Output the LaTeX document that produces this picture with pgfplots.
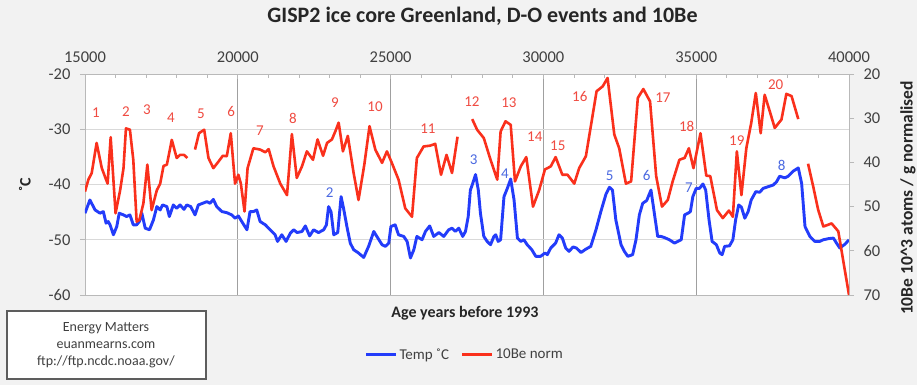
\documentclass[border=0pt]{standalone}
\usepackage{pgfplots}
\pgfplotsset{compat=1.18}
\usepackage{fontspec}
\setmainfont{Carlito}
\definecolor{bgc}{RGB}{242,242,242}
\definecolor{tblue}{RGB}{35,60,250}
\definecolor{bred}{RGB}{250,48,28}
\definecolor{lred}{RGB}{240,75,65}
\definecolor{lblue}{RGB}{75,105,225}
\definecolor{txt}{RGB}{64,64,64}
\definecolor{axc}{RGB}{185,185,185}
\definecolor{vgrid}{RGB}{160,160,160}
\definecolor{hgrid}{RGB}{217,217,217}
\begin{document}
\begin{tikzpicture}
\fill[bgc] (-85bp,-90bp) rectangle (832bp,295bp);
\begin{axis}[
 at={(0,0)}, anchor=south west,
 scale only axis, width=764bp, height=221bp,
 xmin=15000, xmax=40000, ymin=-60, ymax=-20,
 axis background/.style={fill=white},
 axis line style={axc, line width=0.8bp},
 xtick={15000,20000,...,40000},
 scaled x ticks=false,
 minor x tick num=4,
 xtick pos=right, xticklabel pos=right,
 xtick align=inside,
 ytick={-60,-50,...,-20},
 ytick pos=left, ytick align=outside,
 major tick length=5bp, minor tick length=4bp,
 tick style={axc, line width=0.8bp},
 xmajorgrids, ymajorgrids,
 x grid style={vgrid, line width=0.9bp},
 y grid style={hgrid, line width=0.9bp},
 /pgf/number format/assume math mode=true,
 /pgf/number format/1000 sep={},
 tick label style={font=\fontsize{16.5bp}{18bp}\selectfont, text=txt},
 xticklabel style={yshift=7.5bp},
 yticklabel style={xshift=-6bp},
 legend style={at={(0.497,-0.27)}, anchor=center, draw=none, fill=none,
   font=\fontsize{15bp}{17bp}\selectfont, text=txt,
   /tikz/every even column/.append style={column sep=10bp}},
 legend columns=2,
 legend image code/.code={\draw[#1] (0bp,0bp) -- (30bp,0bp);},
]
\addplot[tblue, line width=2.9bp, line join=round] coordinates {
(15000,-45.2) (15160,-42.8) (15330,-44.6) (15490,-45.2) (15600,-44.9) (15690,-47.0)
(15760,-46.7) (15820,-47.3) (15930,-49.1) (16040,-47.6) (16120,-45.2) (16260,-45.5)
(16360,-45.8) (16470,-45.5) (16580,-47.3) (16690,-47.3) (16780,-46.7) (16860,-45.2)
(16970,-47.9) (17110,-48.2) (17240,-46.4) (17350,-44.0) (17460,-44.6) (17540,-43.7)
(17680,-44.0) (17760,-45.8) (17890,-43.7) (18000,-44.3) (18110,-43.7) (18240,-44.5)
(18330,-43.7) (18460,-44.0) (18600,-45.5) (18710,-43.7) (18850,-43.4) (18990,-43.1)
(19090,-43.4) (19200,-42.7) (19310,-44.0) (19480,-44.9) (19640,-45.1) (19800,-45.5)
(19910,-46.1) (20020,-45.7) (20130,-46.7) (20300,-48.2) (20400,-44.9) (20510,-44.9)
(20620,-44.6) (20730,-46.7) (20900,-47.3) (21060,-48.2) (21220,-49.1) (21300,-50.3)
(21440,-49.1) (21580,-50.3) (21720,-48.8) (21830,-48.2) (21940,-48.7) (22100,-48.5)
(22210,-47.5) (22350,-49.3) (22480,-48.2) (22640,-48.7) (22810,-48.2) (22900,-47.3)
(22970,-44.0) (23050,-44.9) (23140,-49.1) (23270,-48.7) (23380,-42.2) (23460,-44.3)
(23570,-47.6) (23680,-50.6) (23790,-51.8) (23950,-52.4) (24120,-53.2) (24280,-51.2)
(24450,-48.5) (24550,-49.4) (24720,-50.9) (24830,-51.2) (24940,-50.6) (25010,-47.6)
(25150,-47.3) (25260,-49.1) (25430,-49.4) (25540,-50.3) (25650,-53.3) (25760,-51.8)
(25860,-49.4) (26030,-50.0) (26140,-48.5) (26280,-47.5) (26410,-49.4) (26580,-48.7)
(26740,-49.4) (26900,-48.2) (27010,-47.9) (27120,-48.5) (27230,-47.9) (27360,-49.4)
(27450,-48.5) (27540,-45.8) (27610,-41.0) (27670,-40.1) (27780,-38.2) (27870,-41.0)
(27940,-45.2) (28050,-49.4) (28160,-50.3) (28270,-50.9) (28380,-49.4) (28440,-49.1)
(28520,-50.3) (28600,-50.0) (28710,-42.2) (28820,-40.7) (28930,-39.0) (29040,-42.8)
(29150,-49.7) (29260,-50.3) (29360,-50.0) (29470,-50.9) (29620,-51.8) (29750,-53.0)
(29910,-53.0) (30050,-52.4) (30130,-52.7) (30240,-51.5) (30400,-50.6) (30510,-49.1)
(30620,-49.7) (30730,-51.5) (30840,-52.1) (30970,-51.3) (31080,-51.5) (31230,-52.3)
(31390,-51.7) (31550,-51.2) (31720,-48.2) (31880,-44.9) (32050,-41.7) (32160,-40.5)
(32260,-41.0) (32370,-46.4) (32540,-50.9) (32650,-52.1) (32760,-53.0) (32920,-52.7)
(33030,-50.0) (33140,-45.5) (33250,-43.4) (33380,-42.9) (33520,-41.0) (33630,-45.2)
(33740,-49.4) (33850,-49.4) (33960,-49.6) (34120,-50.0) (34290,-50.6) (34400,-50.3)
(34510,-50.0) (34620,-45.5) (34730,-45.2) (34810,-44.9) (34890,-42.2) (35000,-40.7)
(35110,-40.7) (35220,-39.9) (35310,-41.0) (35420,-46.4) (35520,-50.3) (35660,-50.9)
(35770,-52.4) (35850,-52.7) (35930,-51.2) (36090,-51.1) (36200,-50.0) (36290,-46.4)
(36390,-43.7) (36480,-44.1) (36590,-46.1) (36700,-44.9) (36800,-42.8) (36950,-41.3)
(37080,-41.4) (37190,-40.7) (37350,-40.4) (37520,-40.1) (37630,-39.5) (37730,-38.5)
(37900,-38.8) (38010,-38.5) (38170,-37.6) (38340,-37.0) (38450,-39.8) (38560,-47.6)
(38720,-49.4) (38880,-50.3) (39040,-50.3) (39160,-50.0) (39330,-49.8) (39490,-49.7)
(39590,-50.6) (39700,-51.5) (39870,-50.8) (40000,-50.0)
};
\addlegendentry{Temp ˚C}
\addlegendimage{bred, line width=2.6bp}
\addlegendentry{10Be norm}
% event labels
\begin{scope}[every node/.style={font=\fontsize{15bp}{17bp}\selectfont, text=lred, inner sep=0pt}]
\node at (axis cs:15360,-27.0) {1};
\node at (axis cs:16340,-26.8) {2};
\node at (axis cs:17030,-26.5) {3};
\node at (axis cs:17810,-27.9) {4};
\node at (axis cs:18790,-27.2) {5};
\node at (axis cs:19780,-26.7) {6};
\node at (axis cs:20720,-30.3) {7};
\node at (axis cs:21800,-28.1) {8};
\node at (axis cs:23180,-25.2) {9};
\node at (axis cs:24490,-25.9) {10};
\node at (axis cs:26220,-29.9) {11};
\node at (axis cs:27660,-25.0) {12};
\node at (axis cs:28870,-25.2) {13};
\node at (axis cs:29720,-31.4) {14};
\node at (axis cs:30470,-33.0) {15};
\node at (axis cs:31190,-24.1) {16};
\node at (axis cs:33910,-24.3) {17};
\node at (axis cs:34690,-29.4) {18};
\node at (axis cs:36330,-32.1) {19};
\node at (axis cs:37600,-21.9) {20};
\end{scope}
\begin{scope}[every node/.style={font=\fontsize{15bp}{17bp}\selectfont, text=lblue, inner sep=0pt}]
\node at (axis cs:23010,-41.5) {2};
\node at (axis cs:27720,-35.5) {3};
\node at (axis cs:28740,-38.1) {4};
\node at (axis cs:32170,-38.4) {5};
\node at (axis cs:33380,-38.4) {6};
\node at (axis cs:34760,-40.6) {7};
\node at (axis cs:37800,-36.5) {8};
\end{scope}
\end{axis}
\begin{axis}[
 at={(0,0)}, anchor=south west,
 scale only axis, width=764bp, height=221bp,
 xmin=15000, xmax=40000, ymin=20, ymax=70, y dir=reverse,
 axis x line=none, axis y line*=right,
 axis line style={axc, line width=0.8bp},
 ytick={20,30,...,70}, ytick align=outside,
 major tick length=5bp,
 tick style={axc, line width=0.8bp},
 /pgf/number format/assume math mode=true,
 tick label style={font=\fontsize{16.5bp}{18bp}\selectfont, text=txt},
 yticklabel style={xshift=6bp},
 unbounded coords=jump,
]
\addplot[bred, line width=2.6bp, line join=round] coordinates {
(15000,46.6) (15110,43.9) (15220,42.4) (15380,35.6) (15550,41.3) (15690,43.9)
(15740,44.8) (15840,34.3) (16000,51.5) (16150,46.3) (16260,41.3) (16340,32.3)
(16470,32.6) (16580,39.4) (16690,53.4) (16780,53.0) (16910,49.3) (17040,40.5)
(17180,50.8) (17350,46.3) (17460,44.8) (17570,40.8) (17680,40.5) (17840,34.9)
(18000,39.0) (18110,38.3) (18240,38.3) (18350,39.0)
(18470,nan)
(18600,37.1) (18730,33.4) (18900,32.6) (19040,39.0) (19200,41.3) (19370,39.8)
(19510,38.5) (19640,38.6) (19770,33.4) (19910,44.8) (20020,42.8) (20100,44.8)
(20220,51.1) (20320,41.3) (20510,36.8) (20730,37.1) (20900,37.7) (21010,37.0)
(21170,40.9) (21390,44.8) (21610,47.4) (21770,33.6) (21930,43.5) (22100,40.9)
(22260,37.5) (22460,39.4) (22610,34.8) (22790,38.5) (22920,35.6) (23080,34.8)
(23190,33.0) (23300,31.0) (23440,37.5) (23600,34.0) (23790,42.4) (23950,48.5)
(24140,40.5) (24310,31.8) (24500,37.1) (24720,40.1) (24880,37.5) (25040,40.1)
(25260,43.9) (25480,50.4) (25700,52.3) (25860,39.0) (26080,36.4) (26300,36.2)
(26460,35.8) (26650,42.8) (26830,38.3) (27010,42.4) (27190,34.2)
(27400,nan)
(27670,30.2) (27830,32.6) (28050,34.5) (28270,39.4) (28490,43.9) (28600,33.0)
(28760,30.7) (28930,31.5) (29070,44.3) (29260,40.9) (29440,38.8) (29660,50.0)
(29860,46.3) (30050,41.6) (30240,40.9) (30400,38.8) (30620,42.8) (30790,42.8)
(31010,44.8) (31170,41.3) (31390,38.6) (31550,31.9) (31740,23.9) (31940,22.8)
(32100,20.9) (32320,33.7) (32480,36.8) (32700,44.8) (32870,44.3) (33090,25.4)
(33270,23.4) (33490,26.2) (33690,43.1) (33880,50.0) (34070,48.5) (34230,44.3)
(34450,39.4) (34620,39.0) (34760,36.8) (34910,41.3) (35140,33.4) (35330,43.0)
(35460,43.1) (35680,50.8) (35870,52.6) (36070,50.9) (36200,52.3) (36330,37.5)
(36480,47.4) (36640,36.8) (36800,31.1) (36950,24.3) (37110,33.4) (37240,24.7)
(37410,28.5) (37570,32.2) (37790,30.3) (37950,24.5) (38120,25.0) (38340,30.2)
(38500,nan)
(38660,40.3) (38830,45.5) (38990,50.7) (39160,54.5) (39320,54.1) (39430,53.8)
(39650,55.6) (40000,70.0)
};
\end{axis}
% axis titles and texts
\node[font=\bfseries\fontsize{16bp}{18bp}\selectfont, text=black!85] at (380bp,-18bp) {Age years before 1993};
\node[font=\bfseries\fontsize{16bp}{18bp}\selectfont, text=black!85, rotate=90] at (-60bp,110bp) {˚C};
\node[font=\bfseries\fontsize{17.5bp}{19bp}\selectfont, text=black!85, rotate=90] at (823bp,97bp) {10Be 10\textasciicircum3 atoms / g normalised};
\node[font=\bfseries\fontsize{22bp}{24bp}\selectfont, text=black!85] at (397.5bp,279bp) {GISP2 ice core Greenland, D-O events and 10Be};
\draw[draw=txt!85, line width=1.3bp, fill=white] (-78bp,-16bp) rectangle (121bp,-84bp);
\begin{scope}[every node/.style={font=\fontsize{14bp}{16bp}\selectfont, text=txt}]
\node at (21bp,-33bp) {Energy Matters};
\node at (21bp,-50bp) {euanmearns.com};
\node at (21bp,-67bp) {ftp://ftp.ncdc.noaa.gov/};
\end{scope}
\pgfresetboundingbox
\path[use as bounding box] (-85bp,-90bp) rectangle (832bp,295bp);
\end{tikzpicture}
\end{document}
